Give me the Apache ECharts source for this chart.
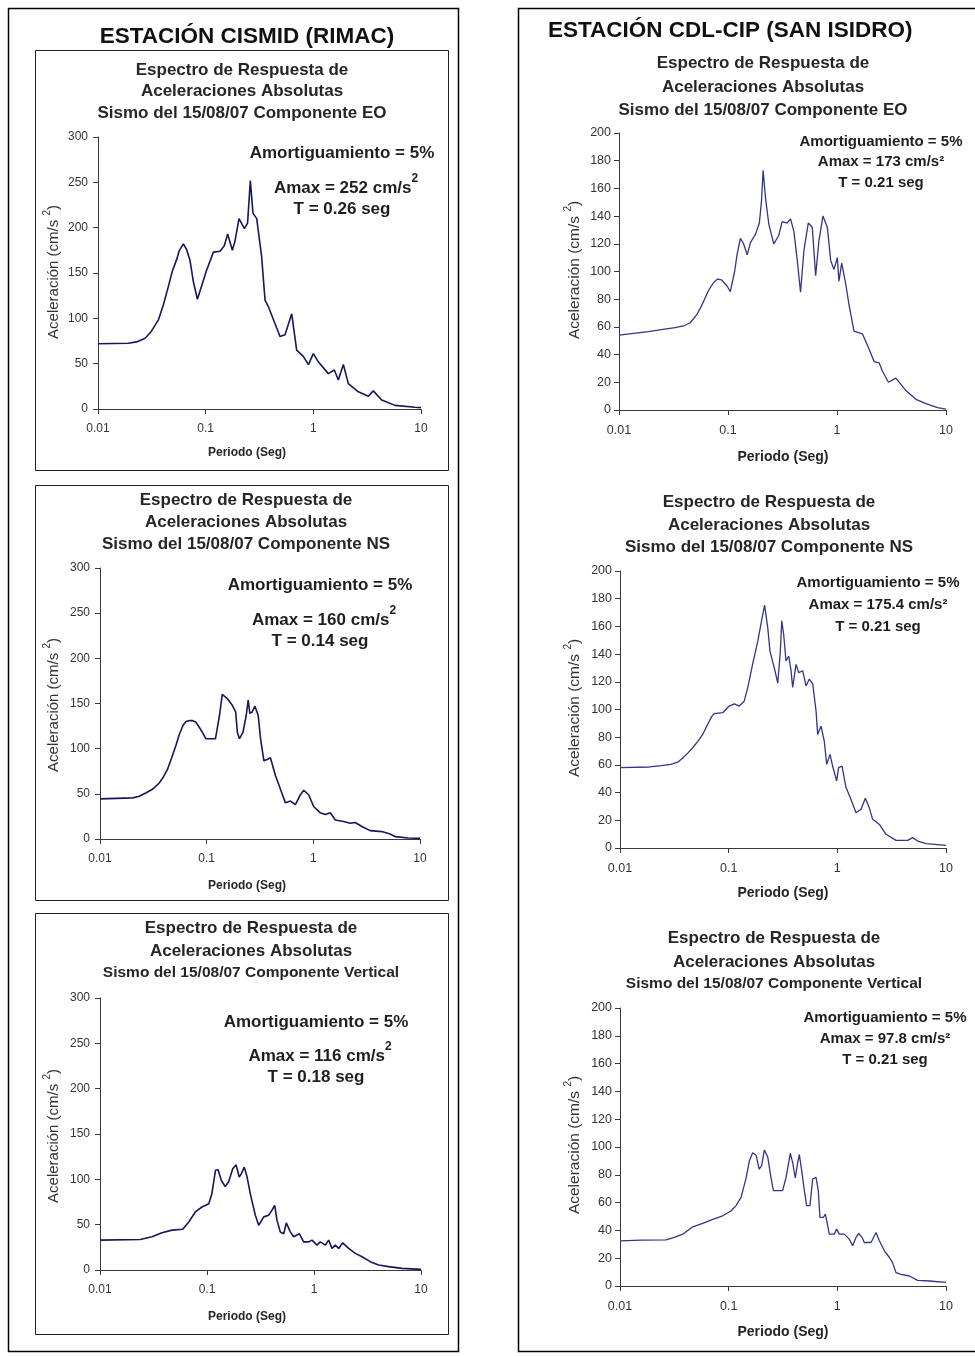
<!DOCTYPE html>
<html><head><meta charset="utf-8">
<script src="https://cdn.jsdelivr.net/npm/echarts@6.0.0/dist/echarts.min.js"></script>
<style>html,body{margin:0;padding:0;background:#fff}#c{width:975px;height:1356px}</style>
</head><body><div id="c"></div>
<script>
// ---------- data ----------
const xTickLabels = ['0.01', '0.1', '1', '10'];
const cismidYMax = 300, cismidYStep = 50;
const cdlYMax = 200, cdlYStep = 20;

// CISMID (RIMAC) - Componente EO
const cismidEOPeriod = [0.01,0.0191,0.0228,0.0274,0.031,0.0363,0.0405,0.045,0.049,0.0538,0.057,0.0621,0.0665,0.0715,0.077,0.0838,0.102,0.118,0.136,0.149,0.16,0.177,0.187,0.204,0.229,0.245,0.26,0.275,0.298,0.331,0.356,0.382,0.441,0.49,0.546,0.63,0.7,0.807,0.9,1.0,1.112,1.377,1.567,1.706,1.901,2.113,2.618,3.243,3.606,4.315,5.741,8.79,10];
const cismidEOAccel  = [72,72.5,74,78,85,98,115,135,152,165,175,182,176,164,140,121,153,173,174,180,193,175,185,210,199,205,252,216,210,168,120,113,94,80,82,105,65,58,49,61,52,39,43,32,49,28,19,14,20,10,4,2,1.5];

// CISMID (RIMAC) - Componente NS
const cismidNSPeriod = [0.01,0.0202,0.023,0.0269,0.031,0.0359,0.039,0.0429,0.047,0.0513,0.0555,0.0601,0.064,0.0684,0.074,0.0789,0.085,0.0912,0.098,0.121,0.132,0.14,0.156,0.174,0.187,0.194,0.203,0.219,0.235,0.245,0.254,0.267,0.283,0.304,0.32,0.344,0.369,0.396,0.442,0.492,0.547,0.61,0.679,0.757,0.813,0.904,1.007,1.161,1.294,1.442,1.607,1.919,2.218,2.472,2.851,3.412,4.385,5.248,5.834,7.78,10];
const cismidNSAccel  = [44.4,45.5,47,51,55,62,68,77,90,103,116,126,130,131,131,129.5,124,118,111,111,137,160,155.5,148,140.6,118,111,118,137,153.7,139,140.6,147,137,111,86.5,88,90,70,55,40,42,38,49,54,49,36,29,27,29,21,19.4,17.5,18.3,13.8,9.3,8.2,5.6,2.6,1.1,0.7];

// CISMID (RIMAC) - Componente Vertical
const cismidVPeriod = [0.01,0.0238,0.0306,0.0379,0.0471,0.0593,0.0675,0.0778,0.0897,0.104,0.111,0.12,0.127,0.136,0.148,0.159,0.174,0.187,0.2,0.209,0.223,0.237,0.254,0.283,0.304,0.339,0.377,0.405,0.429,0.451,0.484,0.521,0.551,0.601,0.646,0.73,0.8,0.891,0.957,1.067,1.146,1.276,1.371,1.472,1.581,1.702,1.854,2.109,2.432,2.812,3.357,4.018,4.989,6.637,10];
const cismidVAccel  = [33,33.7,36.6,41,44,45,53,64,69.5,73,84,110,110.5,99,92,97,111.6,116,102.5,106,113.5,102.5,84,60.4,49.4,58.6,60.4,66,71.4,55,42,40,52,42,36.6,40,31,31,33,27.5,31,27.5,33,23.8,27.5,23.8,30,23.8,18.3,14.6,9.2,5.5,3.7,1.8,0.7];

// CDL-CIP (SAN ISIDRO) - Componente EO
const cdlEOPeriod = [0.01,0.0186,0.0245,0.0327,0.04,0.045,0.0519,0.057,0.0618,0.067,0.0738,0.08,0.0869,0.098,0.105,0.115,0.121,0.13,0.139,0.15,0.161,0.179,0.194,0.203,0.21,0.221,0.237,0.263,0.292,0.314,0.349,0.375,0.402,0.432,0.463,0.497,0.545,0.593,0.637,0.682,0.743,0.815,0.875,0.938,1.007,1.042,1.104,1.202,1.288,1.432,1.71,1.968,2.188,2.438,2.612,2.965,3.467,3.855,4.285,5.297,6.546,8.375,10];
const cdlEOAccel  = [54,56.6,58,59.4,61,63,69,75,81,87,92,94.5,94,89.5,85.4,100,112,124,120,112,121,127,135,151,173,153,134,120,126,136,135,138,129,108,85,115,135,132,97,122,140,132,108,101.5,110,93,106,91,76,57,55,44,35,34,28,20,23,18.5,14,7.7,4.6,1.7,0.7];

// CDL-CIP (SAN ISIDRO) - Componente NS
const cdlNSPeriod = [0.01,0.0186,0.024,0.0294,0.034,0.0378,0.042,0.0467,0.052,0.0577,0.062,0.0664,0.07,0.0738,0.0881,0.101,0.113,0.125,0.139,0.15,0.166,0.185,0.206,0.214,0.229,0.24,0.263,0.283,0.299,0.308,0.321,0.337,0.357,0.375,0.388,0.417,0.441,0.48,0.515,0.552,0.593,0.637,0.659,0.708,0.759,0.798,0.857,0.906,0.986,1.028,1.104,1.202,1.337,1.486,1.652,1.811,1.968,2.113,2.438,2.805,3.467,4.436,4.932,5.483,6.546,10];
const cdlNSAccel  = [58,58.5,59.5,60.4,62,65,68.5,72.4,77,82,87,91.7,95,97,97.7,102.5,104,102.5,106,116,132.6,149,168.7,175.4,159,142,130,119,142,164,154,135,138.6,128,116,132.6,126.6,128,117,122,118.7,99,82,88,77,60.4,67.6,59,48.4,58,59.2,43.6,35,25.5,28,35.9,29,20.7,17,9.9,5.5,5.5,7.5,5,3.1,1.9];

// CDL-CIP (SAN ISIDRO) - Componente Vertical
const cdlVPeriod = [0.01,0.0156,0.0265,0.0316,0.0378,0.0467,0.0577,0.0713,0.0881,0.105,0.117,0.13,0.145,0.155,0.166,0.179,0.191,0.201,0.213,0.229,0.245,0.258,0.314,0.337,0.357,0.369,0.388,0.41,0.432,0.447,0.47,0.497,0.522,0.56,0.593,0.637,0.668,0.692,0.743,0.776,0.804,0.843,0.938,0.986,1.042,1.159,1.202,1.288,1.384,1.486,1.57,1.687,1.77,2.042,2.27,2.438,2.71,3.013,3.228,3.467,3.855,4.603,5.483,7.031,10];
const cdlVAccel  = [32.5,33,33.2,35,37.3,42.6,45,48,50.5,54,57.8,63.8,78,90,95.8,94,84,86.6,97.8,92.7,78,68.6,68.6,78,89,95.5,89,77.7,89,94.6,83,68.6,57.8,57.8,77,78.2,68.6,49.3,49.3,51.7,45.7,37.3,37.3,41,37.3,37.3,38.5,33.7,28.9,35,37.8,35,31.3,31.3,38.5,32.5,25.3,20.5,16.8,9.6,8.4,7.2,4.1,3.6,2.6];

// text
const stationTitles = ['ESTACIÓN CISMID (RIMAC)', 'ESTACIÓN CDL-CIP (SAN ISIDRO)'];
const titleLine1 = 'Espectro de Respuesta de';
const titleLine2 = 'Aceleraciones Absolutas';
const componentTitles = ['Sismo del 15/08/07 Componente EO', 'Sismo del 15/08/07 Componente NS', 'Sismo del 15/08/07 Componente Vertical'];
const dampingText = 'Amortiguamiento = 5%';
const cismidAmax = ['252', '160', '116'];
const cismidT = ['0.26', '0.14', '0.18'];
const cdlAmax = ['173', '175.4', '97.8'];
const cdlT = ['0.21', '0.21', '0.21'];
const xAxisTitle = 'Periodo (Seg)';

// ---------- layout ----------
const FF = '"Liberation Sans", Arial, Helvetica, sans-serif';
const panels = [
  {grid:{left:98, top:137, width:323, height:272}, per:cismidEOPeriod, acc:cismidEOAccel, ymax:cismidYMax, ystep:cismidYStep, color:'#17175c', lw:1.6, fs:12, ym:10},
  {grid:{left:100, top:568, width:320, height:271}, per:cismidNSPeriod, acc:cismidNSAccel, ymax:cismidYMax, ystep:cismidYStep, color:'#17175c', lw:1.6, fs:12, ym:10},
  {grid:{left:100, top:998, width:321, height:272}, per:cismidVPeriod, acc:cismidVAccel, ymax:cismidYMax, ystep:cismidYStep, color:'#17175c', lw:1.6, fs:12, ym:10},
  {grid:{left:619, top:133, width:327, height:277}, per:cdlEOPeriod, acc:cdlEOAccel, ymax:cdlYMax, ystep:cdlYStep, color:'#34348a', lw:1.3, fs:12.5, ym:8},
  {grid:{left:620, top:571, width:326, height:277}, per:cdlNSPeriod, acc:cdlNSAccel, ymax:cdlYMax, ystep:cdlYStep, color:'#34348a', lw:1.3, fs:12.5, ym:8},
  {grid:{left:620, top:1008, width:326, height:278}, per:cdlVPeriod, acc:cdlVAccel, ymax:cdlYMax, ystep:cdlYStep, color:'#34348a', lw:1.3, fs:12.5, ym:8}
];

const grids = [], xAxes = [], yAxes = [], series = [];
panels.forEach((p, i) => {
  grids.push(Object.assign({containLabel:false}, p.grid));
  xAxes.push({
    type:'log', logBase:10, gridIndex:i, min:0.01, max:10,
    axisLine:{onZero:false, lineStyle:{color:'#3a3a3a', width:1}},
    axisTick:{show:true, length:5, lineStyle:{color:'#3a3a3a'}},
    minorTick:{show:false}, splitLine:{show:false},
    axisLabel:{color:'#333', fontSize:p.fs, fontFamily:FF, margin:14,
      formatter: v => xTickLabels[Math.round(Math.log10(v)) + 2]}
  });
  yAxes.push({
    type:'value', gridIndex:i, min:0, max:p.ymax, interval:p.ystep,
    axisLine:{show:true, onZero:false, lineStyle:{color:'#3a3a3a', width:1}},
    axisTick:{show:true, length:5, lineStyle:{color:'#3a3a3a'}},
    splitLine:{show:false},
    axisLabel:{color:'#333', fontSize:p.fs, fontFamily:FF, margin:p.ym}
  });
  series.push({
    type:'line', xAxisIndex:i, yAxisIndex:i, showSymbol:false, symbol:'none',
    silent:true, animation:false,
    lineStyle:{color:p.color, width:p.lw},
    data: p.per.map((t, k) => [t, p.acc[k]])
  });
});

// ---------- text / frames ----------
const G = [];
function rect(x, y, w, h, lw, stroke) {
  G.push({type:'rect', silent:true, shape:{x, y, width:w, height:h}, style:{fill:'none', stroke:stroke || '#000', lineWidth:lw}});
}
function txt(x, y, text, size, weight, align, color) {
  G.push({type:'text', silent:true, x, y, style:{text, fontSize:size, fontWeight:weight || 'normal', fontFamily:FF,
    fill:color || '#1e1e1e', textAlign:align || 'center', textVerticalAlign:'middle'}});
}
function rich(x, y, text, richStyles, align, rotation) {
  G.push({type:'text', silent:true, x, y, rotation:rotation || 0, style:{text, rich:richStyles, fontFamily:FF,
    textAlign:align || 'center', textVerticalAlign:'middle'}});
}

rect(8.5, 8.5, 450, 1343, 1.5);
rect(518.5, 8.5, 470, 1343, 1.5);
rect(35.5, 50.5, 413, 420, 1, '#222');
rect(35.5, 485.5, 413, 415, 1, '#222');
rect(35.5, 913.5, 413, 421, 1, '#222');

txt(247, 37, stationTitles[0], 22.5, 'bold', 'center', '#111');
txt(548, 31, stationTitles[1], 22.5, 'bold', 'left', '#111');

// chart titles
const titlePos = [
  {x:242, y:[70, 91, 113], s3:17},
  {x:246, y:[500, 522, 544], s3:17},
  {x:251, y:[928, 951, 973], s3:15.5},
  {x:763, y:[63, 87, 110], s3:17},
  {x:769, y:[502, 525, 547], s3:17},
  {x:774, y:[938, 962, 984], s3:15.5}
];
titlePos.forEach((t, i) => {
  txt(t.x, t.y[0], titleLine1, 17, 'bold', 'center', '#262626');
  txt(t.x, t.y[1], titleLine2, 17, 'bold', 'center', '#262626');
  txt(t.x, t.y[2], componentTitles[i % 3], t.s3, 'bold', 'center', '#262626');
});

// annotations
const annL = [{x:342, y:[153, 185, 209]}, {x:320, y:[585, 617, 641]}, {x:316, y:[1022, 1053, 1077]}];
annL.forEach((a, i) => {
  txt(a.x, a.y[0], dampingText, 17, 'bold', 'center', '#1e1e1e');
  rich(a.x + 4, a.y[1], '{m|Amax = ' + cismidAmax[i] + ' cm/s}{s|2}', {
    m:{fontSize:17, fontWeight:'bold', fontFamily:FF, fill:'#1e1e1e', lineHeight:24, verticalAlign:'bottom'},
    s:{fontSize:12, fontWeight:'bold', fontFamily:FF, fill:'#1e1e1e', verticalAlign:'top'}
  });
  txt(a.x, a.y[2], 'T = ' + cismidT[i] + ' seg', 17, 'bold', 'center', '#1e1e1e');
});
const annR = [{x:881, y:[142, 162, 183]}, {x:878, y:[583, 605, 627]}, {x:885, y:[1018, 1039, 1060]}];
annR.forEach((a, i) => {
  txt(a.x, a.y[0], dampingText, 15, 'bold', 'center', '#1e1e1e');
  txt(a.x, a.y[1], 'Amax = ' + cdlAmax[i] + ' cm/s²', 15, 'bold', 'center', '#1e1e1e');
  txt(a.x, a.y[2], 'T = ' + cdlT[i] + ' seg', 15, 'bold', 'center', '#1e1e1e');
});

// axis titles
const xTitlePos = [[247, 453, 12], [247, 886, 12], [247, 1317, 12], [783, 457, 14], [783, 893, 14], [783, 1332, 14]];
xTitlePos.forEach(p => txt(p[0], p[1], xAxisTitle, p[2], 'bold', 'center', '#262626'));
const yTitlePos = [[52, 272, 15], [52, 705, 15], [52, 1136, 15], [573, 270, 15.5], [573, 708, 15.5], [573, 1145, 15.5]];
yTitlePos.forEach(p => rich(p[0], p[1], '{a|Aceleración (cm/s }{s|2}{a|)}', {
  a:{fontSize:p[2], fontFamily:FF, fill:'#333', lineHeight:19, verticalAlign:'bottom'},
  s:{fontSize:10, fontFamily:FF, fill:'#333', verticalAlign:'top'}
}, 'center', Math.PI / 2));

const chart = echarts.init(document.getElementById('c'), null, {renderer:'canvas'});
chart.setOption({
  animation:false,
  backgroundColor:'#ffffff',
  grid:grids, xAxis:xAxes, yAxis:yAxes, series,
  graphic:{elements:G}
});
</script></body></html>
